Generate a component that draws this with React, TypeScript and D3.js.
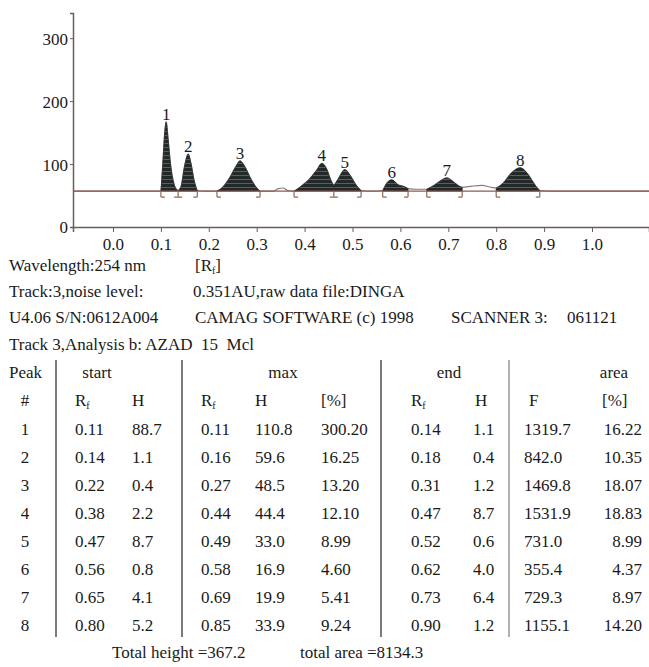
import * as React from 'react';
import * as d3 from 'd3';

// densitogram trace (Rf, signal in AU)
const traceRf = [
  -0.0835, 0.1, 0.104, 0.108, 0.111, 0.115, 0.12, 0.126, 0.132, 0.136,
  0.142, 0.149, 0.157, 0.163, 0.169, 0.176,
  0.195, 0.217, 0.23, 0.245, 0.258, 0.265, 0.275, 0.288, 0.3, 0.307,
  0.335, 0.345, 0.355, 0.365, 0.378,
  0.395, 0.41, 0.425, 0.436, 0.446, 0.455, 0.461,
  0.47, 0.484, 0.495, 0.508, 0.518,
  0.54, 0.563, 0.572, 0.582, 0.595, 0.608, 0.616,
  0.635, 0.655, 0.67, 0.685, 0.697, 0.71, 0.722, 0.729,
  0.75, 0.77, 0.79, 0.8,
  0.815, 0.832, 0.85, 0.866, 0.878, 0.888, 0.891,
  0.92, 1.119,
];
const traceSignal = [
  57, 57, 100, 150, 167, 140, 100, 72, 60, 58,
  64, 95, 116, 100, 75, 58,
  57, 57, 64, 80, 98, 105, 96, 76, 62, 57,
  57, 61, 62, 58, 57,
  66, 76, 90, 101, 92, 74, 66,
  76, 91, 82, 66, 58,
  57, 58, 70, 75, 67, 64, 61,
  60, 60, 66, 74, 78, 72, 65, 63,
  65, 66, 63, 62,
  70, 86, 94, 84, 70, 60, 58,
  57, 57,
];
const baselineSignal = 57;

const peakIds = ['1', '2', '3', '4', '5', '6', '7', '8'];
const peakStartRf = [0.1, 0.136, 0.217, 0.378, 0.461, 0.563, 0.655, 0.8];
const peakEndRf = [0.136, 0.176, 0.307, 0.461, 0.518, 0.616, 0.729, 0.891];
const peakMaxRf = [0.111, 0.157, 0.265, 0.436, 0.484, 0.582, 0.697, 0.85];
const peakTop = [167, 116, 105, 101, 91, 75, 78, 94];

const rfTicks = [0, 0.1, 0.2, 0.3, 0.4, 0.5, 0.6, 0.7, 0.8, 0.9, 1.0];
const signalTicks = [0, 100, 200, 300];

// report table
const rowNo = ['1', '2', '3', '4', '5', '6', '7', '8'];
const startRf = ['0.11', '0.14', '0.22', '0.38', '0.47', '0.56', '0.65', '0.80'];
const startH = ['88.7', '1.1', '0.4', '2.2', '8.7', '0.8', '4.1', '5.2'];
const maxRf = ['0.11', '0.16', '0.27', '0.44', '0.49', '0.58', '0.69', '0.85'];
const maxH = ['110.8', '59.6', '48.5', '44.4', '33.0', '16.9', '19.9', '33.9'];
const maxPct = ['300.20', '16.25', '13.20', '12.10', '8.99', '4.60', '5.41', '9.24'];
const endRf = ['0.14', '0.18', '0.31', '0.47', '0.52', '0.62', '0.73', '0.90'];
const endH = ['1.1', '0.4', '1.2', '8.7', '0.6', '4.0', '6.4', '1.2'];
const areaF = ['1319.7', '842.0', '1469.8', '1531.9', '731.0', '355.4', '729.3', '1155.1'];
const areaPct = ['16.22', '10.35', '18.07', '18.83', '8.99', '4.37', '8.97', '14.20'];

const W = 649;
const H = 667;
const FONT = '"Liberation Serif", "Times New Roman", serif';

export default function App() {
  const ref = React.useRef<SVGGElement | null>(null);

  React.useEffect(() => {
    if (!ref.current) return;
    const svg = d3.select(ref.current);
    svg.selectAll('*').remove();

    const x = d3.scaleLinear().domain([-0.0835, 1.119]).range([73, 649]);
    const y = d3.scaleLinear().domain([0, 340]).range([227, 13]);

    const defs = svg.append('defs');
    const pat = defs.append('pattern')
      .attr('id', 'scan')
      .attr('patternUnits', 'userSpaceOnUse')
      .attr('width', 6).attr('height', 4);
    pat.append('rect').attr('width', 6).attr('height', 4).attr('fill', '#232828');
    pat.append('rect').attr('y', 3).attr('width', 6).attr('height', 1).attr('fill', '#556060');

    const pts = traceRf.map((r, i) => [r, traceSignal[i]] as [number, number]);

    // thin trace
    const line = d3.line<[number, number]>()
      .x(d => x(d[0])).y(d => y(d[1]))
      .curve(d3.curveMonotoneX);
    svg.append('path')
      .attr('d', line(pts) || '')
      .attr('fill', 'none')
      .attr('stroke', '#8a7a78')
      .attr('stroke-width', 1.2);

    // filled peaks
    const area = d3.area<[number, number]>()
      .x(d => x(d[0]))
      .y0(y(baselineSignal))
      .y1(d => y(d[1]))
      .curve(d3.curveMonotoneX);
    peakIds.forEach((_, i) => {
      const seg = pts.filter(p => p[0] >= peakStartRf[i] - 1e-9 && p[0] <= peakEndRf[i] + 1e-9);
      svg.append('path')
        .attr('d', area(seg) || '')
        .attr('fill', 'url(#scan)')
        .attr('stroke', '#2a2f2f')
        .attr('stroke-width', 0.8);
    });

    // baseline
    svg.append('line')
      .attr('x1', x(-0.0835)).attr('x2', x(1.119))
      .attr('y1', y(baselineSignal)).attr('y2', y(baselineSignal))
      .attr('stroke', '#8c5b52').attr('stroke-width', 1.4);

    // start / end brackets
    const yb = y(baselineSignal);
    const bracket = (rf: number, left: boolean, right: boolean) => {
      const bx = x(rf);
      let d = `M${bx},${yb}V${yb + 6}`;
      if (left) d += `M${bx - 4},${yb + 6}H${bx}`;
      if (right) d += `M${bx},${yb + 6}H${bx + 4}`;
      svg.append('path').attr('d', d).attr('fill', 'none')
        .attr('stroke', '#8a6d5c').attr('stroke-width', 1.2);
    };
    peakIds.forEach((_, i) => {
      const joinedPrev = i > 0 && Math.abs(peakEndRf[i - 1] - peakStartRf[i]) < 1e-6;
      bracket(peakStartRf[i], joinedPrev, true);
      const joinedNext = i < peakIds.length - 1 && Math.abs(peakStartRf[i + 1] - peakEndRf[i]) < 1e-6;
      if (!joinedNext) bracket(peakEndRf[i], true, false);
    });

    // peak numbers
    svg.append('g').selectAll('text').data(peakIds).join('text')
      .attr('x', (_, i) => x(peakMaxRf[i]))
      .attr('y', (_, i) => y(peakTop[i]) - 2)
      .attr('text-anchor', 'middle')
      .attr('font-family', FONT)
      .attr('font-size', 17)
      .attr('fill', '#1a1a1a')
      .text(d => d);

    // axes
    const ax = d3.axisBottom(x).tickValues(rfTicks).tickSize(5).tickPadding(6)
      .tickFormat(d3.format('.1f') as any);
    const gx = svg.append('g').attr('transform', `translate(0,${y(0)})`).call(ax as any);
    const ay = d3.axisLeft(y).tickValues(signalTicks).tickSize(3).tickPadding(2)
      .tickFormat(d3.format('d') as any);
    const gy = svg.append('g').attr('transform', `translate(${x(-0.0835)},0)`).call(ay as any);
    [gx, gy].forEach(g => {
      g.select('.domain').attr('stroke', '#6e5d57').attr('stroke-width', 1.5);
      g.selectAll('.tick line').attr('stroke', '#6e5d57');
      g.selectAll('.tick text').attr('font-family', FONT).attr('font-size', 17).attr('fill', '#1a1a1a');
    });
    gy.selectAll('.tick text').attr('dy', '0.35em');
  }, []);

  const T = (props: any) => (
    <text fontFamily={FONT} fontSize={17} fill="#1a1a1a" {...props} />
  );
  const Rf = ({ x, y }: { x: number; y: number }) => (
    <T x={x} y={y}>R<tspan fontSize={10} dy={3}>f</tspan></T>
  );

  const rowY = (i: number) => 435 + i * 28;

  return (
    <svg
      width={W}
      height={H}
      viewBox={`0 0 ${W} ${H}`}
      style={{ position: 'absolute', left: 0, top: 0, background: '#fff' }}
    >
      <g ref={ref} />
      <g id="notes">
        <T x={9} y={271}>Wavelength:254 nm</T>
        <T x={195} y={271}>[R<tspan fontSize={10} dy={3}>f</tspan><tspan dy={-3}>]</tspan></T>
        <T x={9} y={297}>Track:3,noise level:</T>
        <T x={193} y={297}>0.351AU,raw data file:DINGA</T>
        <T x={9} y={323}>U4.06 S/N:0612A004</T>
        <T x={195} y={323}>CAMAG SOFTWARE (c) 1998</T>
        <T x={451} y={323}>SCANNER 3:</T>
        <T x={567} y={323}>061121</T>
        <T x={9} y={350} style={{ whiteSpace: 'pre' }}>Track 3,Analysis b: AZAD  15  Mcl</T>
      </g>
      <g id="table">
        <T x={9} y={378}>Peak</T>
        <T x={97} y={378} textAnchor="middle">start</T>
        <T x={283} y={378} textAnchor="middle">max</T>
        <T x={449} y={378} textAnchor="middle">end</T>
        <T x={614} y={378} textAnchor="middle">area</T>
        <T x={25} y={406} textAnchor="middle">#</T>
        <Rf x={75} y={406} />
        <T x={132} y={406}>H</T>
        <Rf x={201} y={406} />
        <T x={255} y={406}>H</T>
        <T x={321} y={406}>[%]</T>
        <Rf x={411} y={406} />
        <T x={475} y={406}>H</T>
        <T x={529} y={406}>F</T>
        <T x={602} y={406}>[%]</T>
        {rowNo.map((n, i) => (
          <g key={n}>
            <T x={25} y={rowY(i)} textAnchor="middle">{n}</T>
            <T x={75} y={rowY(i)}>{startRf[i]}</T>
            <T x={132} y={rowY(i)}>{startH[i]}</T>
            <T x={201} y={rowY(i)}>{maxRf[i]}</T>
            <T x={255} y={rowY(i)}>{maxH[i]}</T>
            <T x={321} y={rowY(i)}>{maxPct[i]}</T>
            <T x={411} y={rowY(i)}>{endRf[i]}</T>
            <T x={473} y={rowY(i)}>{endH[i]}</T>
            <T x={524} y={rowY(i)}>{areaF[i]}</T>
            <T x={642} y={rowY(i)} textAnchor="end">{areaPct[i]}</T>
          </g>
        ))}
        <line x1={56} x2={56} y1={360} y2={637} stroke="#333" strokeWidth={1.3} />
        <line x1={182} x2={182} y1={360} y2={637} stroke="#333" strokeWidth={1.3} />
        <line x1={381} x2={381} y1={360} y2={637} stroke="#333" strokeWidth={1.3} />
        <line x1={509} x2={509} y1={360} y2={637} stroke="#888" strokeWidth={1.3} />
        <T x={112} y={658}>Total height =367.2</T>
        <T x={300} y={658}>total area =8134.3</T>
      </g>
    </svg>
  );
}
